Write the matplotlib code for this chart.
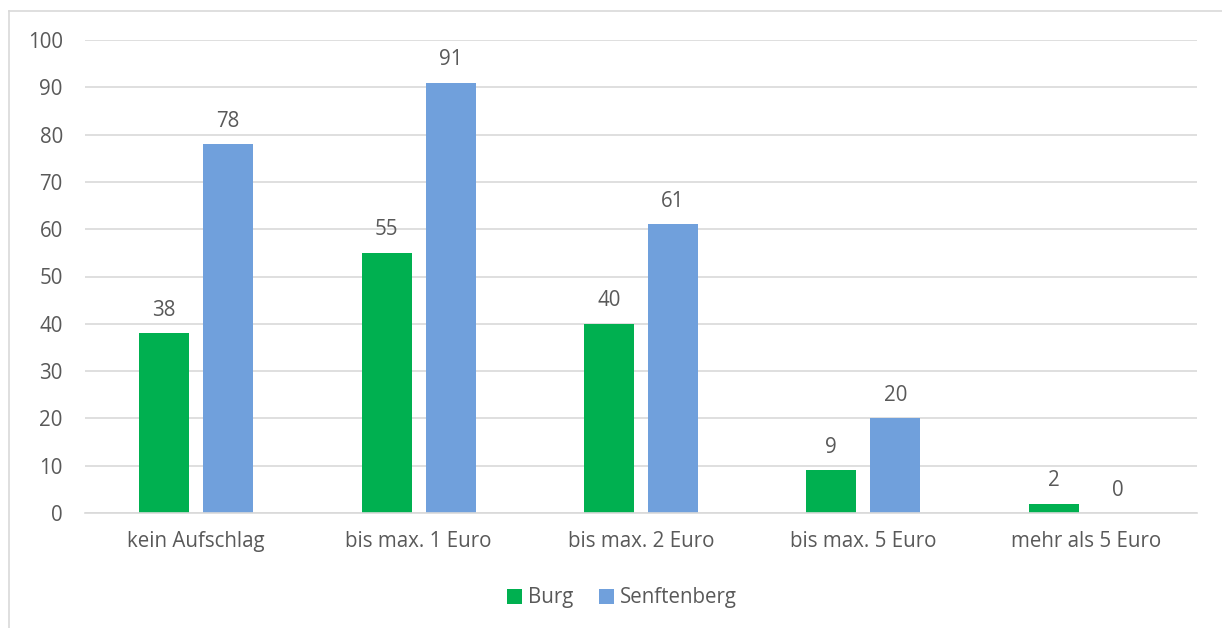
import matplotlib
matplotlib.use("Agg")
import matplotlib.pyplot as plt
from matplotlib.lines import Line2D
import numpy as np

categories = ["kein Aufschlag", "bis max. 1 Euro", "bis max. 2 Euro", "bis max. 5 Euro", "mehr als 5 Euro"]
burg = [38, 55, 40, 9, 2]
senftenberg = [78, 91, 61, 20, 0]
series_names = ["Burg", "Senftenberg"]
yticks = [0, 10, 20, 30, 40, 50, 60, 70, 80, 90, 100]

plt.rcParams['font.family'] = ['Open Sans', 'DejaVu Sans']
txt = '#595959'
green = '#00B050'
blue = '#70A0DC'
fs = 14.8

fig = plt.figure(figsize=(12.22, 6.28), dpi=100)
ax = fig.add_axes([85/1222, 1-513/628, (1197-85)/1222, (513-40)/628])

x = np.arange(len(categories))
w = 0.225
off = 0.144
b1 = ax.bar(x - off, burg, w, color=green, label=series_names[0], zorder=3)
b2 = ax.bar(x + off, senftenberg, w, color=blue, label=series_names[1], zorder=3)
for bars, vals in ((b1, burg), (b2, senftenberg)):
    for r, v in zip(bars, vals):
        ax.annotate(str(v), (r.get_x() + r.get_width()/2, v), xytext=(0, 9),
                    textcoords='offset points', ha='center', va='bottom',
                    fontsize=fs, color=txt)

ax.set_xlim(-0.5, len(categories) - 0.5)
ax.set_ylim(0, 100)
ax.set_yticks(yticks)
ax.set_xticks(x)
ax.set_xticklabels(categories)
ax.tick_params(axis='both', length=0, labelsize=fs, labelcolor=txt)
ax.tick_params(axis='x', pad=13)
ax.tick_params(axis='y', pad=16)
ax.yaxis.grid(True, color='#D9D9D9', linewidth=1.2, zorder=0)
for s in ['top', 'right', 'left']:
    ax.spines[s].set_visible(False)
ax.spines['bottom'].set_color('#D9D9D9')
ax.spines['bottom'].set_linewidth(1.2)
ax.spines['bottom'].set_zorder(4)

leg = fig.legend(handles=[b1, b2], labels=series_names, loc='center',
                 bbox_to_anchor=(622/1222, 1-598/628), ncol=2, frameon=False,
                 fontsize=fs, handlelength=0.75, handleheight=0.75,
                 handletextpad=0.3, columnspacing=1.2)
for t in leg.get_texts():
    t.set_color(txt)

# chart border
fig.add_artist(Line2D([9/1222, 1.0], [1-11/628, 1-11/628], color='#D9D9D9', linewidth=1.2, transform=fig.transFigure))
fig.add_artist(Line2D([9/1222, 9/1222], [1-11/628, 0.0], color='#D9D9D9', linewidth=1.2, transform=fig.transFigure))

fig.savefig('out.png', dpi=100)
